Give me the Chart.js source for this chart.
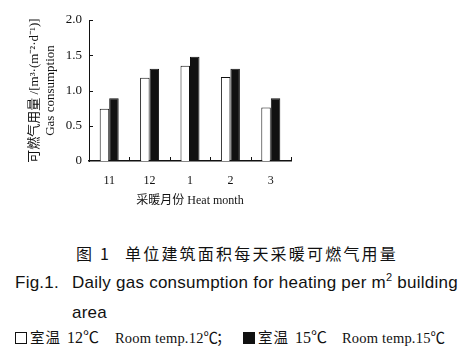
<!DOCTYPE html>
<html>
<head>
<meta charset="utf-8">
<script src="https://cdn.jsdelivr.net/npm/chart.js@4"></script>
<style>
  html, body { margin: 0; padding: 0; background: #fff; }
  body { width: 463px; height: 359px; position: relative; overflow: hidden; }
  #chart { position: absolute; left: 0; top: 0; }
  .cap { position: absolute; white-space: nowrap; color: #111; line-height: 1; }
  .cn { font-family: 'Noto Sans CJK SC', sans-serif; font-size: 16px; top: 245px; letter-spacing: 2.2px; }
  .en { font-family: 'Liberation Sans', Arial, sans-serif; font-size: 17px; letter-spacing: 0.25px; }
  .lg { font-family: 'Liberation Serif', 'Noto Sans CJK SC', serif; font-size: 16px; top: 330px; }
  .lg.cjk { font-family: 'Noto Sans CJK SC', sans-serif; font-size: 14.5px; top: 330px; letter-spacing: 1px; }
  .lg.rt { font-size: 14.5px; top: 331px; letter-spacing: 0.2px; }
  .box { position: absolute; top: 332px; width: 12px; height: 12px; border: 1px solid #111; box-sizing: border-box; }
  .box.fill { background: #111; }
</style>
</head>
<body>
<canvas id="chart" width="463" height="225"></canvas>
<div class="cap cn" style="left:76px">图 1</div>
<div class="cap cn" style="left:125px">单位建筑面积每天采暖可燃气用量</div>
<div class="cap en" style="top:274px;left:15px">Fig.1.</div>
<div class="cap en" style="top:274px;left:72px">Daily gas consumption for heating per m<sup style="font-size:11px;vertical-align:7px;line-height:0">2</sup> building</div>
<div class="cap en" style="top:304px;left:72px">area</div>
<div class="box" style="left:15px"></div>
<div class="cap lg cjk" style="left:30px">室温</div>
<div class="cap lg" style="left:67px">12℃</div>
<div class="cap lg rt" style="left:115px">Room temp.12℃</div>
<div class="cap lg cjk" style="left:216px">；</div>
<div class="box fill" style="left:243px"></div>
<div class="cap lg cjk" style="left:258px">室温</div>
<div class="cap lg" style="left:295px">15℃</div>
<div class="cap lg rt" style="left:342px">Room temp.15℃</div>
<script>
// ── data ──
const months = ['11', '12', '1', '2', '3'];
const room12 = [0.74, 1.18, 1.35, 1.19, 0.76];
const room15 = [0.89, 1.31, 1.48, 1.31, 0.89];
const yTickLabels = ['0', '0.5', '1.0', '1.5', '2.0'];

const SERIF = "'Liberation Serif', 'Noto Sans CJK SC', serif";

// inward tick marks, like the printed figure
const innerTicks = {
  id: 'innerTicks',
  afterDraw(chart) {
    const { ctx, scales: { x, y }, chartArea: a } = chart;
    ctx.save();
    ctx.strokeStyle = '#111';
    ctx.lineWidth = 1;
    ctx.beginPath();
    y.ticks.forEach(t => {
      if (t.value === 0) return;
      const py = Math.round(y.getPixelForValue(t.value)) + 0.5;
      ctx.moveTo(a.left, py); ctx.lineTo(a.left + 4, py);
    });
    months.forEach((m, i) => {
      const px = Math.round(x.getPixelForValue(i + 0.5)) + 0.5;
      ctx.moveTo(px, a.bottom); ctx.lineTo(px, a.bottom - 4);
    });
    ctx.stroke();
    ctx.restore();
  }
};

new Chart(document.getElementById('chart'), {
  type: 'bar',
  data: {
    labels: months,
    datasets: [
      { label: '室温 12℃ Room temp.12℃', data: room12, backgroundColor: '#fff', borderColor: '#111', borderWidth: 1 },
      { label: '室温 15℃ Room temp.15℃', data: room15, backgroundColor: '#111', borderColor: '#111', borderWidth: 1 }
    ]
  },
  options: {
    responsive: false,
    animation: false,
    layout: { padding: { left: 0, top: 20, right: 172, bottom: 14 } },
    plugins: { legend: { display: false }, tooltip: { enabled: false } },
    datasets: { bar: { categoryPercentage: 0.47, barPercentage: 1.0 } },
    scales: {
      x: {
        grid: { display: false, drawTicks: false },
        border: { display: true, color: '#111', width: 1.5 },
        ticks: { color: '#111', padding: 13, font: { family: SERIF, size: 12 } },
        title: {
          display: true, text: '采暖月份 Heat month', color: '#111',
          font: { family: SERIF, size: 12 }, padding: { top: 0, bottom: 3 }
        },
        afterFit: s => { s.height = 50; }
      },
      y: {
        min: 0, max: 2,
        grid: { display: false, drawTicks: false },
        border: { display: true, color: '#111', width: 1 },
        ticks: {
          stepSize: 0.5, color: '#111', padding: 7,
          font: { family: SERIF, size: 13 },
          callback: (v, i) => yTickLabels[i]
        },
        title: {
          display: true,
          text: ['可燃气用量 /[m³·(m⁻²·d⁻¹)]', 'Gas consumption'],
          color: '#111',
          font: { family: SERIF, size: 13, lineHeight: 1.2 },
          padding: { top: 27, bottom: 0 }
        },
        afterFit: s => { s.width = 89; }
      }
    }
  },
  plugins: [innerTicks]
});
</script>
</body>
</html>
